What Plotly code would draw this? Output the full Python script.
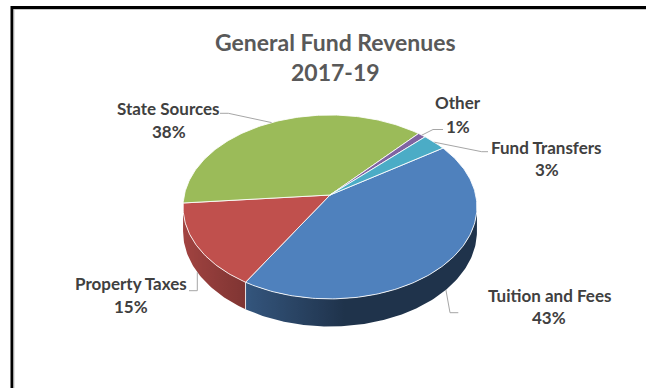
import numpy as np
import plotly.graph_objects as go

# ---- data -------------------------------------------------------------
categories = ["Tuition and Fees", "Property Taxes", "State Sources", "Other", "Fund Transfers"]
shares = [43, 15, 38, 1, 3]  # percent of general fund revenues
colors = ["#4F81BD", "#C0504D", "#9BBB59", "#8064A2", "#4BACC6"]

title_lines = ["General Fund Revenues", "2017-19"]

# ---- 3-D pie geometry (pixel space, y grows downward) ------------------
W, H = 646, 388
CX, CY = 330.0, 195.0      # centre of the top face
RX, RY = 145.7, 90.4       # radii of the top face
PERSP = 0.13               # perspective strength (far side smaller)
DEPTH = 24.0               # thickness of the pie
START = 56.2               # first slice angle, degrees clockwise from 12 o'clock


def proj(theta_deg, h=0.0):
    t = np.radians(theta_deg)
    u, v = np.sin(t), np.cos(t)
    s = 1.0 / (1.0 + PERSP * v)
    return CX + RX * u * s, CY - RY * v * s + h * s


def shade(theta_deg):
    # side lit from the left-front
    c = np.cos(np.radians(theta_deg - 265.0))
    return 0.40 + 0.45 * max(0.0, c)


def hex_rgb(h):
    h = h.lstrip("#")
    return tuple(int(h[i:i + 2], 16) for i in (0, 2, 4))


total = float(sum(shares))
bounds = []
a = START
for v in shares:
    b = a + 360.0 * v / total
    bounds.append((a, b))
    a = b

# visible side: where the rim faces the viewer
lo = np.degrees(np.arccos(-PERSP))
hi = 360.0 - lo

fig = go.Figure()

# side walls, one polygon per slice with a horizontal shading gradient
for (a, b), col in zip(bounds, colors):
    r, g, bl = hex_rgb(col)
    for off in (0.0, 360.0):
        s0, s1 = max(a, lo + off), min(b, hi + off)
        if s1 <= s0:
            continue
        ts = np.linspace(s0, s1, max(4, int((s1 - s0) / 1.0) + 2))
        top = [proj(t) for t in ts]
        bot = [proj(t, DEPTH) for t in ts[::-1]]
        pts = top + bot + [top[0]]
        xs = np.array([p[0] for p in pts])
        xmin, xmax = xs.min(), xs.max()
        samples = sorted(((proj(t)[0] - xmin) / (xmax - xmin), t) for t in ts)
        scale = []
        for pos, t in samples:
            f = shade(t)
            scale.append([float(np.clip(pos, 0, 1)),
                          f"rgb({int(r * f)},{int(g * f)},{int(bl * f)})"])
        scale[0][0], scale[-1][0] = 0.0, 1.0
        fig.add_trace(go.Scatter(
            x=xs, y=[p[1] for p in pts],
            mode="lines", fill="toself",
            fillgradient=dict(type="horizontal", colorscale=scale),
            line=dict(width=0), hoverinfo="skip", showlegend=False))

# light edge where two slices meet on the front wall
for (a, b) in bounds:
    for t in (a, a + 360.0, a - 360.0):
        if lo < t < hi:
            p0, p1 = proj(t), proj(t, DEPTH)
            fig.add_trace(go.Scatter(
                x=[p0[0], p1[0]], y=[p0[1], p1[1]], mode="lines",
                line=dict(color="rgba(255,255,255,0.8)", width=1),
                hoverinfo="skip", showlegend=False))

# top faces
for (a, b), col in zip(bounds, colors):
    ts = np.linspace(a, b, max(3, int((b - a) / 1.0) + 2))
    pts = [(CX, CY)] + [proj(t) for t in ts] + [(CX, CY)]
    fig.add_trace(go.Scatter(
        x=[p[0] for p in pts], y=[p[1] for p in pts],
        mode="lines", fill="toself", fillcolor=col,
        line=dict(color="rgba(255,255,255,0.85)", width=1),
        hoverinfo="skip", showlegend=False))

# ---- data labels with leader lines ------------------------------------
label_layout = [
    dict(name=(549.7, 295), pct=(549, 317), elbow=(450, 312.7), end=(458.3, 312.7), wall=True),
    dict(name=(131, 283), pct=(131, 306), elbow=(197.3, 290.7), end=(189, 290.7), wall=True),
    dict(name=(168, 108), pct=(168.5, 131), elbow=(228.3, 113.3), end=(220, 113.3), wall=False),
    dict(name=(458, 102), pct=(457.5, 126), elbow=(433, 129.5), end=(443, 129.5), wall=False),
    dict(name=(546.7, 147), pct=(547, 169), elbow=(481.7, 151.7), end=(488, 151.7), wall=False),
]

LABEL_FONT = dict(family="Lato, 'Open Sans', sans-serif", size=17, color="#404040")

for (a, b), cat, v, lay in zip(bounds, categories, shares, label_layout):
    mid = 0.5 * (a + b)
    ax, ay = proj(mid, DEPTH if lay["wall"] else 0.0)
    fig.add_trace(go.Scatter(
        x=[ax, lay["elbow"][0], lay["end"][0]],
        y=[ay, lay["elbow"][1], lay["end"][1]],
        mode="lines", line=dict(color="#A6A6A6", width=1),
        hoverinfo="skip", showlegend=False))
    fig.add_annotation(x=lay["name"][0], y=lay["name"][1], text=f"<b>{cat}</b>",
                       showarrow=False, xanchor="center", yanchor="middle", font=LABEL_FONT)
    fig.add_annotation(x=lay["pct"][0], y=lay["pct"][1], text=f"<b>{v}%</b>",
                       showarrow=False, xanchor="center", yanchor="middle", font=LABEL_FONT)

# ---- title -------------------------------------------------------------
TITLE_FONT = dict(family="Lato, 'Open Sans', sans-serif", size=23, color="#595959")
for txt, y in zip(title_lines, (42, 72)):
    fig.add_annotation(x=335, y=y, text=f"<b>{txt}</b>", showarrow=False,
                       xanchor="center", yanchor="middle", font=TITLE_FONT)

# ---- chart frame -------------------------------------------------------
fig.add_shape(type="rect", xref="x", yref="y", x0=12, y0=7.5, x1=W + 20, y1=H + 20,
              line=dict(color="#000000", width=3), fillcolor="rgba(0,0,0,0)", layer="below")
fig.add_shape(type="rect", xref="x", yref="y", x0=14, y0=9.5, x1=W + 20, y1=H + 20,
              line=dict(color="#C8C8C8", width=1), fillcolor="rgba(0,0,0,0)", layer="below")

fig.update_layout(
    width=W, height=H, autosize=False,
    margin=dict(l=0, r=0, t=0, b=0),
    paper_bgcolor="white", plot_bgcolor="white",
    xaxis=dict(range=[0, W], visible=False, fixedrange=True),
    yaxis=dict(range=[H, 0], visible=False, fixedrange=True),
    showlegend=False,
)

fig.write_html("out.html", config={"displayModeBar": False})
